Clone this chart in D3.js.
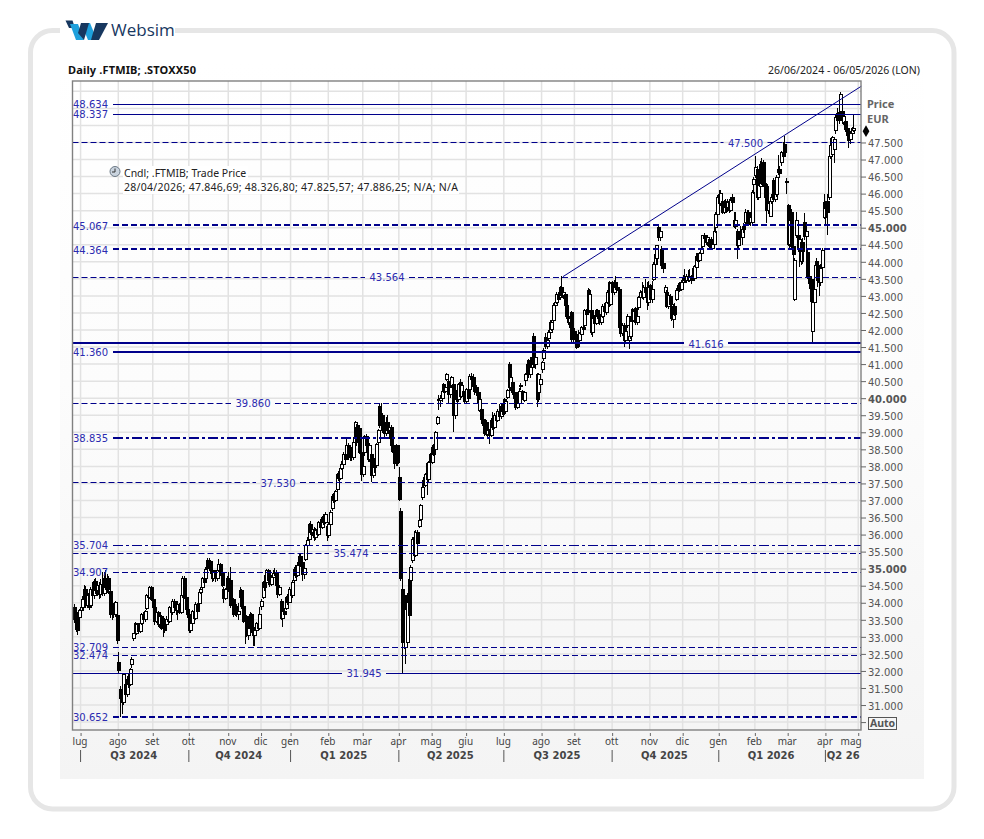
<!DOCTYPE html>
<html>

<head>
  <meta charset="utf-8">
  <script src="https://d3js.org/d3.v7.min.js"></script>
  <style>
    html, body { margin: 0; padding: 0; background: #fff; }
    text { font-family: "DejaVu Sans", sans-serif; }
  </style>
</head>

<body>
  <script type="text/javascript">
    // Daily candles, one entry per trading day
    var opens = [
      33870,33700,33620,33570,33770,33870,34110,34400,33920,34260,
      33920,34400,34200,34620,34350,34520,34250,34550,34280,34700,
      34450,34700,34320,33650,33900,33650,33640,32260,31470,31180,
      31080,31600,31300,31750,31600,32200,32940,33400,33100,33350,
      33150,33380,33650,33500,33820,34210,34150,34450,34100,33850,
      33450,33700,33350,33600,33250,33500,33350,33500,33450,33850,
      33700,34050,33850,33780,33950,33720,34200,34720,34150,33800,
      33650,33180,33400,33750,33550,33950,33970,34310,34450,34700,
      34700,35250,35050,35220,34950,34700,34900,34700,34950,35120,
      34850,34400,34120,34380,34720,34650,33920,34100,33650,33900,
      33650,34160,34350,33900,33450,33600,33050,33250,33650,33280,
      33040,33180,33400,33250,33880,34160,34600,34600,34940,34650,
      34550,34750,34900,34850,34500,34250,34050,33530,33750,33820,
      34160,34000,34400,34200,34650,34990,34800,35100,35370,35180,
      34840,35280,35670,35850,36300,36050,36160,35900,36120,36000,
      36350,36200,36500,36350,36250,35970,36300,36750,37130,37000,
      37330,37770,37650,37950,38050,38350,38350,38600,38250,38500,
      38250,38890,39150,38700,39100,38410,37770,38400,38890,38600,
      38200,38350,37720,38160,38020,38700,39770,39190,39500,39050,
      38950,39300,39050,39150,38600,38450,38080,38600,37670,36690,
      34400,34200,32700,32830,34690,34650,35230,35900,35400,36050,
      36250,36450,37090,37600,37450,38070,37620,38350,38120,38600,
      38500,39250,39920,39920,40000,40410,40210,40560,40500,40120,
      40360,40410,39480,40170,39970,40450,40050,40200,40050,39900,
      40250,40260,40650,40600,40350,40310,40160,39630,39680,39380,
      39200,39290,38940,39050,38900,39350,39150,39500,39350,39600,
      39450,39750,39950,39600,40030,41000,40310,40460,40170,40180,
      39730,39850,40340,40200,39920,40510,40700,41100,40700,40900,
      41820,41000,40700,40170,40400,40850,41150,41770,41520,41750,
      41920,42020,42270,42710,42800,43050,42950,43240,43000,43050,
      42710,42400,42220,42500,41730,41950,41750,41870,41680,41870,
      42070,42120,42560,43150,42560,42560,41920,42350,42200,42560,
      42450,42220,42400,42700,42520,42800,43390,42750,43390,43100,
      43400,43250,43200,42070,41900,42120,41680,42120,41680,41800,
      42600,42270,42620,42220,42650,42950,43120,42950,43250,43100,
      42800,43300,42900,43490,43930,44100,45000,44700,44370,43950,
      43100,43100,42700,42980,42700,42310,42700,42900,43150,43300,
      43200,43400,43550,43450,43580,43450,43550,43800,43520,43830,
      44170,44050,44240,44460,44760,44660,44580,44650,44660,44400,
      44500,45000,45390,45980,45700,45780,45450,45780,45600,45780,
      45500,45900,45200,45050,44900,44470,44900,44700,45050,45150,
      45440,45450,45150,45150,46280,46520,46710,45880,46220,46860,
      46900,46270,46220,45500,45340,45780,46380,45830,45980,46620,
      46710,46900,47200,47450,46350,45640,44510,45450,44450,42900,
      44760,44760,44370,44000,44560,45150,44750,44270,43580,43490,
      41970,42800,44000,43900,43770,43390,43830,45300,45730,45780,
      45880,47100,47150,47300,47840,48350,48370,48420,48400,48080,
      48120,47900,47700,47600,47750,47850
    ];
    var closes = [
      33520,33230,33180,33770,33870,34110,34400,33920,34210,33870,
      34400,34200,34620,34350,34520,34250,34550,34280,34700,34450,
      34700,34400,33650,33900,33650,34000,32890,32010,31180,31080,
      31900,31300,31750,31600,32050,32350,33090,33100,33350,33150,
      33380,33650,33500,33750,34210,34150,34450,34100,33850,33450,
      33700,33350,33600,33250,33500,33200,33500,33450,33850,33700,
      34050,33850,33780,33950,33720,34200,34720,34150,33800,33650,
      33180,33400,33750,33550,33950,33750,34310,34400,34700,34600,
      34990,35000,35220,34950,34700,34900,34700,34950,35120,34850,
      34500,34120,34380,34720,34400,33920,34100,33650,33900,33650,
      33750,34350,33900,33450,33600,33050,33250,33650,33200,33040,
      33180,33400,33250,33650,34050,34600,34450,34940,34650,34550,
      34750,34870,34850,34500,34250,34450,33530,33750,33650,34160,
      34000,34400,34200,34600,34990,34800,35100,35370,35100,34840,
      35000,35670,35820,36300,36050,36150,35900,36120,36000,36350,
      36200,36500,36350,36600,35970,36300,36650,37130,37000,37250,
      37770,37650,37950,38050,38350,38200,38600,38250,38500,38250,
      38700,39280,38700,39100,38410,37770,38000,38890,38600,38200,
      38620,37720,38000,37970,38650,39040,39190,39500,39050,38950,
      39300,39050,39150,38600,38450,38080,38600,38100,37040,34700,
      32830,32830,33810,34010,33620,35030,35860,35400,36050,35750,
      36400,36840,37380,37450,37750,37620,38100,38120,38550,38350,
      38990,39430,39970,40000,40200,40210,40300,40700,40120,40300,
      40600,39480,40100,39970,40400,40050,40380,40050,39900,40250,
      40000,40650,40550,40350,40200,40160,39850,39970,39380,39200,
      38950,38940,39050,38900,39350,39150,39500,39350,39600,39450,
      39750,39600,39600,39900,40220,40310,40600,40170,40000,39730,
      39850,40200,40370,40000,40170,40700,41000,40700,40900,41200,
      41000,41200,39970,40700,40550,41050,41400,41520,41700,41920,
      42220,42220,42710,42800,43050,42900,43240,43000,43100,42710,
      42400,42220,42350,41730,41950,41750,41500,41680,41900,42070,
      42000,42560,42450,42560,43050,41920,42350,42200,42560,42400,
      42220,42400,42700,42550,42800,43100,42750,43350,43100,43400,
      43250,43200,42070,41900,42120,41680,41950,42410,41800,42250,
      42270,42550,42220,42400,42950,43100,42950,43250,43100,42800,
      43250,42900,43200,43930,44200,44470,44700,44900,43880,43800,
      43250,42700,43000,42750,42350,42700,42450,43150,43300,43200,
      43400,43550,43450,43580,43450,43550,43450,43520,43850,44170,
      44050,44240,44380,44760,44680,44580,44700,44450,44400,44500,
      44900,45390,45900,45700,46000,45450,45750,45600,45750,45500,
      45800,45750,45050,45200,44470,44650,44700,44950,44950,45440,
      45100,45150,45300,46030,46420,46760,45880,46250,46860,46300,
      46270,45900,45500,45700,45780,45900,45830,46250,46470,46710,
      46600,47200,47100,47200,46320,44510,45200,44450,44210,44030,
      45200,44370,44650,44560,44300,44750,44900,43580,43350,42850,
      42800,43200,43900,43450,43390,43800,44320,45730,45550,45440,
      47100,47400,47640,47600,48230,48150,48130,48910,48150,48250,
      47880,47700,47550,47750,47900,47900
    ];
    var highs = [
      33950,33780,33680,33820,33950,34200,34520,34500,34280,34320,
      34450,34620,34700,34720,34620,34600,34700,34900,34900,34950,
      34850,34780,34360,34020,34000,34050,33700,32550,31550,31400,
      31950,31800,31850,31950,32100,32400,33120,33450,33420,33400,
      33450,33700,33720,33800,34250,34300,34500,34500,34150,33900,
      33750,33750,33650,33650,33550,33550,33600,33580,33900,33920,
      34100,34120,33950,34050,34000,34280,34780,34780,34200,33950,
      33700,33480,33800,33820,34020,34000,34360,34450,34750,34800,
      35050,35300,35300,35250,35000,34950,34950,35020,35280,35180,
      34900,34450,34420,34780,34900,35040,34180,34150,33950,33950,
      34000,34450,34400,33950,33700,33650,33350,33720,33700,33350,
      33220,33450,33500,33880,34120,34650,34800,35000,35000,34750,
      34820,34950,35020,34950,34550,34500,34100,33800,33850,34200,
      34250,34450,34520,34680,35050,35100,35200,35450,35420,35250,
      35050,35720,35920,36350,36400,36220,36220,36180,36220,36400,
      36450,36550,36600,36650,36320,36380,36720,37180,37220,37300,
      37820,37850,38000,38150,38420,38420,38800,38680,38550,38580,
      38850,39320,39250,39200,39200,38480,38120,38920,38950,38880,
      38700,38420,38100,38250,38700,39100,39850,39850,39580,39120,
      39450,39500,39220,39220,38680,38550,38650,38620,37970,36790,
      34700,34300,33900,34300,34800,35100,35920,36100,36120,36120,
      36450,36900,37420,37700,37820,38120,38150,38400,38600,38650,
      39050,39480,40100,40100,40250,40450,40350,40750,40560,40580,
      40660,40550,40150,40250,40450,40550,40460,40250,40120,40300,
      40300,40720,40750,40700,40420,40380,40220,40020,39680,39450,
      39280,39350,39120,39100,39420,39600,39580,39580,39680,39820,
      39850,39850,40000,39980,40280,41050,41000,40550,40250,40180,
      39900,40300,40450,40250,40220,40750,41100,41150,41200,41280,
      41900,41250,40750,40750,40600,41100,41480,41900,41900,42000,
      42280,42300,42800,42920,43120,43120,43300,43580,43180,43050,
      42780,42450,42420,42560,42000,42050,41800,42000,41950,42120,
      42250,42620,42620,43220,43200,42620,42420,42450,42620,42620,
      42520,42480,42750,42800,42850,43180,43450,43420,43450,43480,
      43580,43400,43250,42150,42200,42200,42050,42480,41850,42400,
      42650,42620,42680,42500,43000,43180,43400,43320,43500,43400,
      43450,43350,43450,44000,44300,44500,45100,44980,44450,44050,
      43320,43180,43100,43050,42750,42750,42780,43220,43380,43400,
      43480,43620,43780,43650,43750,43780,43620,43880,43920,44250,
      44250,44300,44450,44800,44850,44720,44780,44700,44720,44580,
      45000,45450,45960,46100,46120,45850,45800,45850,45850,45850,
      45900,46000,45450,45450,44970,44750,45050,45020,45150,45550,
      45520,45520,45380,46100,46480,47100,46800,46400,46950,47050,
      47000,46400,46300,45800,45850,46000,46450,46320,46550,47120,
      46800,47250,47500,47690,46470,45700,45600,45550,44700,44100,
      45450,44900,44750,44620,44700,45440,45000,44350,43800,43550,
      42900,43900,44120,44000,43850,43950,44400,45980,45780,46000,
      47150,47620,47700,47650,48300,48500,48680,48980,48500,48350,
      48200,48000,47780,47850,47950,48330
    ];
    var lows = [
      33400,33150,33050,33280,33700,33800,34000,33850,33850,33800,
      33850,34120,34100,34250,34200,34120,34150,34200,34200,34380,
      34300,34250,33550,33500,33550,33580,32780,31910,30650,30750,
      31000,31200,31250,31500,31550,32100,32880,33000,33050,33080,
      33120,33350,33450,33450,33780,34050,34100,34050,33780,33350,
      33400,33300,33250,33200,33000,33100,33300,33350,33400,33620,
      33650,33780,33650,33500,33680,33680,34150,34100,33750,33550,
      33100,33120,33350,33480,33500,33680,33900,34250,34400,34520,
      34650,34950,34980,34850,34620,34650,34620,34650,34900,34780,
      34450,34000,34080,34320,34320,33850,33750,33580,33600,33580,
      33500,34050,33820,33400,32800,33000,32900,33200,33100,32720,
      32720,33100,33180,33200,33800,34120,34350,34550,34580,34450,
      34480,34700,34780,34400,34150,34200,33480,33280,33580,33780,
      33920,34050,34120,34150,34600,34720,34750,35050,35050,34650,
      34700,35220,35600,35800,35980,35950,35820,35850,35900,35950,
      36120,36150,36280,36300,35820,35900,36250,36700,36920,36950,
      37280,37580,37600,37900,37950,38120,38300,38180,38150,38150,
      38200,38800,38600,38620,38350,37580,37700,38300,38500,38120,
      38120,37550,37650,37800,37950,38620,39120,39120,38980,38850,
      38900,38980,38800,38450,38400,37920,38000,38000,36980,34650,
      31950,32650,32200,32750,33450,34600,35180,35300,35350,35700,
      36200,36400,37000,37400,37400,37150,37550,38050,38080,38300,
      38450,39200,39650,39750,39900,40150,40150,40500,39850,40000,
      40300,39000,39400,39900,39900,40000,40000,40000,39850,39850,
      39950,40200,40450,40280,40100,40050,39780,39600,39250,39050,
      38900,38880,38850,38650,38850,39080,39100,39280,39300,39380,
      39400,39500,39500,39550,39980,40250,40200,40100,39850,39650,
      39680,39800,40250,39950,39900,40350,40650,40600,40600,40820,
      40920,40850,39730,39900,40350,40750,41100,41450,41450,41700,
      41880,41980,42220,42620,42750,42820,42880,42950,42900,42650,
      42320,42150,42050,41650,41650,41700,41450,41480,41500,41820,
      41950,42080,42380,42500,42500,41850,41800,42150,42150,42320,
      42150,42150,42350,42500,42450,42750,42680,42700,43050,43020,
      43180,43150,42000,41800,41820,41500,41600,42050,41440,41750,
      42200,42220,42150,42150,42600,42900,42900,42880,43020,42600,
      42700,42850,42800,43450,43850,43950,44620,44620,43800,43680,
      42850,42650,42620,42680,42250,42070,42400,42850,43100,43120,
      43150,43350,43400,43380,43400,43400,43350,43450,43450,43780,
      43980,44000,44200,44400,44600,44500,44450,44400,44350,44350,
      44450,44850,45350,45600,45650,45400,45400,45420,45450,45420,
      45450,45700,45000,44950,44070,44400,44650,44500,44850,45050,
      45050,45080,45050,45080,46000,46450,45800,45800,46150,46250,
      46200,45800,45150,45400,45300,45700,45780,45750,45900,46550,
      46450,46800,47000,47120,45980,44450,44400,44400,44050,42850,
      44700,44300,43850,43900,43950,44650,44000,43500,43200,42800,
      41630,42750,43800,43250,43000,43300,43750,45250,45100,44800,
      45800,47020,47080,46900,47750,48100,48050,48350,48050,48000,
      47800,47650,47350,47450,47650,47800
    ];

    // Horizontal levels drawn on the chart
    var levels = [48634, 48337, 47500, 45067, 44364, 43564, 41616, 41360, 39860, 38835, 37530, 35704, 35474, 34907, 32709, 32474, 31945, 30652];
    var leftLabelLevels = [48634, 48337, 45067, 44364, 41360, 38835, 35704, 34907, 32709, 32474, 30652];
    var thickLevels = [45067, 44364, 41616, 41360, 38835, 30652];
    var solidLevels = [48634, 48337, 41616, 41360, 31945];
    var dashDotLevels = [38835, 35704];

    // Trend line ends: bar position and price; marker on the price axis
    var trendBars = [298, 479.9];
    var trendPrices = [43564, 49150];
    var markerPrice = 47830;

    // Axis labels
    var monthBars = [4, 27, 48, 70, 94, 114, 132, 155, 176, 198, 218, 239, 262, 285, 305, 328, 351, 371, 393, 415, 435, 458, 478];
    var monthNames = ["lug", "ago", "set", "ott", "nov", "dic", "gen", "feb", "mar", "apr", "mag", "giu", "lug", "ago", "set", "ott", "nov", "dic", "gen", "feb", "mar", "apr", "mag"];
    var quarterBars = [4, 70, 132, 198, 262, 328, 393, 458];
    var quarterNames = ["Q3 2024", "Q4 2024", "Q1 2025", "Q2 2025", "Q3 2025", "Q4 2025", "Q1 2026", "Q2 26"];
    var gridPrices = d3.range(30500, 49001, 500);
    var priceTicks = d3.range(30500, 47501, 500);

    var frame = { left: 72.5, right: 861, top: 81, bottom: 730 };
    var lineColor = "#00008b";
    var labelColor = "#2b2bb0";

    var svg = d3.select("body").append("svg")
      .attr("width", 984)
      .attr("height", 839)
      .style("display", "block");

    var x = d3.scaleLinear().domain([0, closes.length - 1]).range([74, 853.3]);
    var y = d3.scaleLinear().domain([49303, 30268]).range([frame.top, frame.bottom]);

    var it = d3.formatLocale({ decimal: ",", thousands: ".", grouping: [3], currency: ["", ""] });
    var fmt = it.format(",d");

    // snap to the pixel grid so thin lines stay dark
    function snap(v) { return Math.round(v) + 0.5; }

    /*
      Page furniture: card, panel, logo
    */
    var grad = svg.append("defs").append("linearGradient")
      .attr("id", "panel").attr("x1", 0).attr("y1", 0).attr("x2", 0).attr("y2", 1);
    grad.append("stop").attr("offset", "0").attr("stop-color", "#ffffff");
    grad.append("stop").attr("offset", "0.45").attr("stop-color", "#fcfcfc");
    grad.append("stop").attr("offset", "1").attr("stop-color", "#f4f4f4");

    svg.append("rect")
      .attr("x", 60).attr("y", 60).attr("width", 864).attr("height", 719)
      .attr("fill", "url(#panel)");

    svg.append("rect")
      .attr("x", 30.5).attr("y", 30.5).attr("width", 923.5).attr("height", 778.5)
      .attr("rx", 22)
      .attr("fill", "none").attr("stroke", "#e6e6e6").attr("stroke-width", 5);

    // logo sits on top of the card border
    svg.append("rect").attr("x", 60).attr("y", 18).attr("width", 115).attr("height", 24).attr("fill", "#fff");
    var logo = svg.append("g");
    logo.append("polygon").attr("points", "65.5,20.5 72.5,20.5 75,28 69,28").attr("fill", "#17375f");
    logo.append("polygon").attr("points", "70,24 78,24 84,40 76,40").attr("fill", "#1ea0dc");
    logo.append("polygon").attr("points", "81,23 90,23 97,40 88,40").attr("fill", "#1ea0dc");
    logo.append("polygon").attr("points", "81,23 89,23 84,40 78,33").attr("fill", "#17375f");
    logo.append("polygon").attr("points", "96,23 108,23 99,40 91,40 93,33").attr("fill", "#17375f");
    svg.append("text").attr("x", 111).attr("y", 36)
      .style("font-family", "'Open Sans', sans-serif").style("font-size", "17px")
      .attr("fill", "#17375f").text("Websim");

    /*
      Titles
    */
    svg.append("text").attr("x", 68).attr("y", 74)
      .attr("textLength", 128)
      .style("font-family", "'Noto Sans', sans-serif")
      .style("font-size", "11px").style("font-weight", "bold")
      .attr("fill", "#111").text("Daily .FTMIB; .STOXX50");
    svg.append("text").attr("x", 768).attr("y", 74)
      .attr("textLength", 152)
      .style("font-family", "'Noto Sans', sans-serif")
      .style("font-size", "10.5px").attr("fill", "#222").text("26/06/2024 - 06/05/2026 (LON)");

    /*
      Grid
    */
    var grid = svg.append("g").attr("stroke", "#e2e2e2").attr("stroke-width", 1.5);
    grid.selectAll("line.h").data(gridPrices).enter().append("line")
      .attr("x1", frame.left).attr("x2", frame.right)
      .attr("y1", function (d) { return y(d); })
      .attr("y2", function (d) { return y(d); });
    grid.selectAll("line.v").data(monthBars).enter().append("line")
      .attr("y1", frame.top).attr("y2", frame.bottom)
      .attr("x1", function (d) { return x(d); })
      .attr("x2", function (d) { return x(d); });

    /*
      Legend block, white behind the text
    */
    svg.append("rect").attr("x", 123).attr("y", 166).attr("width", 125).attr("height", 14).attr("fill", "#fff");
    svg.append("rect").attr("x", 123).attr("y", 180).attr("width", 336).attr("height", 14).attr("fill", "#fff");
    svg.append("circle").attr("cx", 115).attr("cy", 171.5).attr("r", 5)
      .attr("fill", "#c9d3de").attr("stroke", "#6b7885");
    svg.append("path").attr("d", "M115,168.5V172H112").attr("fill", "none").attr("stroke", "#333");
    svg.append("text").attr("x", 124).attr("y", 177)
      .style("font-family", "'Noto Sans', sans-serif").style("font-size", "10.5px")
      .attr("fill", "#222").text("Cndl; .FTMIB; Trade Price");
    svg.append("text").attr("x", 124).attr("y", 191)
      .attr("textLength", 334)
      .style("font-family", "'Noto Sans', sans-serif").style("font-size", "10.5px")
      .attr("fill", "#222").text("28/04/2026; 47.846,69; 48.326,80; 47.825,57; 47.886,25; N/A; N/A");

    /*
      Candles
    */
    var bars = closes.map(function (c, i) {
      return { i: i, o: opens[i], h: highs[i], l: lows[i], c: c };
    });
    var candles = svg.append("g")
      .attr("shape-rendering", "crispEdges")
      .selectAll("g").data(bars).enter().append("g")
      .attr("transform", function (d) { return "translate(" + snap(x(d.i)) + ",0)"; });
    candles.append("line")
      .attr("y1", function (d) { return y(d.h); })
      .attr("y2", function (d) { return y(d.l); })
      .attr("stroke", "#000");
    candles.append("rect")
      .attr("x", -1.5).attr("width", 3)
      .attr("y", function (d) { return y(Math.max(d.o, d.c)); })
      .attr("height", function (d) { return Math.max(1, Math.abs(y(d.o) - y(d.c))); })
      .attr("fill", function (d) { return d.c >= d.o ? "#fff" : "#000"; })
      .attr("stroke", "#000");

    /*
      Levels, with the labels either in the left gutter or in a gap on the line
    */
    var labelCenter = { 47500: 745.5, 43564: 387, 41616: 706, 39860: 253, 37530: 278, 35474: 351, 31945: 364 };

    function segments(v) {
      if (leftLabelLevels.indexOf(v) >= 0) return [[113, frame.right]];
      var c = labelCenter[v];
      return [[frame.left, c - 22], [c + 22, frame.right]];
    }

    function dashFor(v) {
      if (solidLevels.indexOf(v) >= 0) return null;
      if (dashDotLevels.indexOf(v) >= 0) return "10,3,3,3";
      return "6,3";
    }

    levels.forEach(function (v) {
      var g = svg.append("g");
      var thick = thickLevels.indexOf(v) >= 0;
      var ly = thick ? Math.round(y(v)) : snap(y(v));
      segments(v).forEach(function (s) {
        g.append("line")
          .attr("x1", s[0]).attr("x2", s[1])
          .attr("y1", ly).attr("y2", ly)
          .attr("stroke", lineColor)
          .attr("stroke-width", thick ? 2 : 1)
          .attr("stroke-dasharray", dashFor(v));
      });
      var left = leftLabelLevels.indexOf(v) >= 0;
      g.append("text")
        .attr("x", left ? 108 : labelCenter[v])
        .attr("y", y(v) + 4.5)
        .attr("text-anchor", left ? "end" : "middle")
        .style("font-size", "10px")
        .attr("fill", labelColor)
        .text(fmt(v));
    });

    svg.append("line")
      .attr("x1", x(trendBars[0])).attr("y1", y(trendPrices[0]))
      .attr("x2", x(trendBars[1])).attr("y2", y(trendPrices[1]))
      .attr("stroke", lineColor).attr("stroke-width", 1);

    /*
      Frame and axes
    */
    svg.append("rect")
      .attr("x", frame.left).attr("y", frame.top)
      .attr("width", frame.right - frame.left).attr("height", frame.bottom - frame.top)
      .attr("fill", "none").attr("stroke", "#808080").attr("stroke-width", 1.4);

    var yAxis = svg.append("g")
      .attr("transform", "translate(" + frame.right + ",0)")
      .call(d3.axisRight(y).tickValues(priceTicks).tickSize(5).tickPadding(2)
        .tickFormat(function (d) { return d === 30500 ? "" : fmt(d); }));
    yAxis.select(".domain").remove();
    yAxis.selectAll("line").attr("stroke", "#666");
    yAxis.selectAll("text")
      .attr("dy", "0.42em")
      .style("font-size", "10px")
      .style("font-family", "'DejaVu Sans', sans-serif")
      .style("font-weight", function (d) { return d % 5000 === 0 ? "bold" : "normal"; })
      .attr("fill", "#555");

    var xAxis = svg.append("g")
      .attr("transform", "translate(0,733)")
      .call(d3.axisBottom(x).tickValues(monthBars).tickSize(3).tickPadding(2)
        .tickFormat(function (d, i) { return monthNames[i]; }));
    xAxis.select(".domain").remove();
    xAxis.selectAll("line").attr("stroke", "#666");
    xAxis.selectAll("text")
      .attr("dx", -1)
      .style("font-size", "10px")
      .style("font-family", "'Noto Sans', sans-serif")
      .attr("fill", "#444");
    // the last month label is pulled back inside the frame
    xAxis.selectAll("text").filter(function (d, i) { return i === monthBars.length - 1; })
      .attr("text-anchor", "end").attr("dx", 3);

    // quarter row: separators at the first month, name centred on the span
    quarterBars.forEach(function (b, i) {
      var from = x(b);
      var to = i + 1 < quarterBars.length ? x(quarterBars[i + 1]) : frame.right;
      svg.append("line")
        .attr("x1", from).attr("x2", from).attr("y1", 750).attr("y2", 762)
        .attr("stroke", "#555");
      svg.append("text")
        .attr("x", (from + to) / 2 + (i === quarterBars.length - 1 ? 0 : -1)).attr("y", 759)
        .attr("text-anchor", "middle")
        .style("font-family", "'DejaVu Sans', sans-serif")
        .style("font-size", "10px").style("font-weight", "bold")
        .attr("fill", "#444").text(quarterNames[i]);
    });

    // right gutter captions
    ["Price", "EUR"].forEach(function (t, i) {
      svg.append("text").attr("x", 867).attr("y", 108 + i * 15)
        .style("font-family", "'Noto Sans', sans-serif")
        .style("font-size", "11px").style("font-weight", "bold")
        .attr("fill", "#666").text(t);
    });
    svg.append("path")
      .attr("d", d3.symbol(d3.symbolDiamond, 40)())
      .attr("transform", "translate(866," + y(markerPrice) + ")")
      .attr("fill", "#000");

    svg.append("rect").attr("x", 868.5).attr("y", 717.5).attr("width", 28).attr("height", 12)
      .attr("fill", "#f6f6f6").attr("stroke", "#555");
    svg.append("text").attr("x", 882.5).attr("y", 727).attr("text-anchor", "middle")
      .style("font-family", "'Noto Sans', sans-serif")
      .style("font-size", "10.5px").style("font-weight", "bold")
      .attr("fill", "#555").text("Auto");
  </script>
</body>

</html>
